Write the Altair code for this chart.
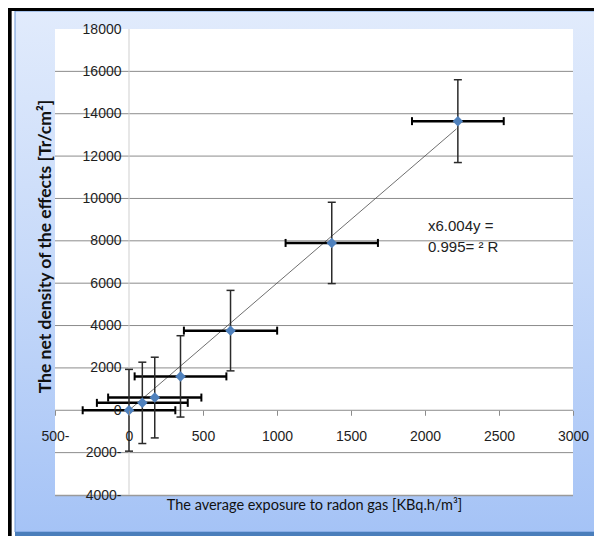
import altair as alt
import pandas as pd

# ---- data ----
x_vals = [0, 90, 174, 348, 686, 1370, 2222]
y_vals = [0, 350, 600, 1600, 3760, 7900, 13650]
x_err = [313, 307, 315, 310, 315, 312, 310]
y_err = [1930, 1920, 1905, 1920, 1900, 1920, 1955]

trend_x = [0, 2213]
trend_y = [0, 13287]

x_ticks = [-500, 0, 500, 1000, 1500, 2000, 2500, 3000]
y_ticks = [-4000, -2000, 0, 2000, 4000, 6000, 8000, 10000, 12000, 14000, 16000, 18000]
grid_vals = [-2000, 0, 2000, 4000, 6000, 8000, 10000, 12000, 14000, 16000]

note_lines = ["x6.004y =", "0.995= \u00b2 R"]
note_x = [2020, 2020]
note_y = [8700, 7700]

x_title = "The average exposure to radon gas [KBq.h/m\u00b3]"
y_title = "The net density of the effects [Tr/cm\u00b2]"

# ---- layout ----
W, H = 518, 466
PAD = {"left": 47, "top": 21, "right": 21, "bottom": 41}

pts = pd.DataFrame({"x": x_vals, "y": y_vals, "xerr": x_err, "yerr": y_err})
trend = pd.DataFrame({"x": trend_x, "y": trend_y})
grid = pd.DataFrame({"y": grid_vals})
notes = pd.DataFrame({"x": note_x, "y": note_y, "label": note_lines})
one = pd.DataFrame({"d": [0]})
zero_x = pd.DataFrame({"x": [0]})

xscale = alt.Scale(domain=[-500, 3000], nice=False, zero=False)
yscale = alt.Scale(domain=[-4000, 18000], nice=False, zero=False)

neg_label = "datum.value < 0 ? (-datum.value) + '-' : '' + datum.value"
x0_px = 500 / 3500 * W
y0_px = 18000 / 22000 * H

xaxis = alt.Axis(
    values=x_ticks, title=x_title, offset=-(H - y0_px), grid=False, domain=False,
    ticks=True, tickSize=5, tickColor="#8c8c8c", tickWidth=1,
    labelPadding=14, labelExpr=neg_label, labelFlush=False, labelOverlap=False,
    labelFont="Liberation Sans", labelFontSize=14, labelColor="#1e1e1e",
    titleFont="Lato", titleFontSize=14.5, titleFontWeight="normal", titleColor="#111",
    titleY=95, titleBaseline="middle", zindex=1,
)
yaxis = alt.Axis(
    values=y_ticks, title=y_title, offset=-x0_px, grid=False, domain=False,
    ticks=False, labelPadding=8, labelExpr=neg_label, labelOverlap=False,
    labelFont="Liberation Sans", labelFontSize=14, labelColor="#1e1e1e",
    titleFont="Lato", titleFontSize=17.5, titleFontWeight="bold", titleColor="#111",
    titleX=-84, titleY=217, titleBaseline="middle", titleAlign="center", zindex=1,
)

X = lambda f: alt.X(f, scale=xscale, axis=xaxis)
Y = lambda f: alt.Y(f, scale=yscale, axis=yaxis)

# ---- decoration (frame / backgrounds) ----
grad = alt.LinearGradient(
    gradient="linear",
    stops=[alt.GradientStop(color="#e1ebfc", offset=0),
           alt.GradientStop(color="#c6d9f9", offset=0.5),
           alt.GradientStop(color="#a5c3f6", offset=1)],
    x1=0, x2=0, y1=0, y2=1,
)
deco = alt.Chart(one)
bg_rect = deco.mark_rect(fill=grad, stroke="#6b97d8", strokeWidth=1).encode(
    x=alt.value(-40), x2=alt.value(560), y=alt.value(-18), y2=alt.value(503))
bottom_band = deco.mark_rule(color="#4a7ebb", strokeWidth=4).encode(
    x=alt.value(-40), x2=alt.value(560), y=alt.value(505))
black_left = deco.mark_rule(color="black", strokeWidth=3.7).encode(
    x=alt.value(-45.2), y=alt.value(-21), y2=alt.value(520))
black_top = deco.mark_rule(color="black", strokeWidth=3).encode(
    x=alt.value(-47), x2=alt.value(560), y=alt.value(-19.5))
plot_rect = deco.mark_rect(fill="white").encode(
    x=alt.value(0), x2=alt.value(W), y=alt.value(0), y2=alt.value(H))
plot_shadow = deco.mark_rule(color="#9a9a9a", strokeWidth=1.5).encode(
    x=alt.value(0), x2=alt.value(W), y=alt.value(H + 0.5))

# ---- grid and axis line ----
gridlines = alt.Chart(grid).mark_rule(color="#8c8c8c", strokeWidth=1).encode(
    y=Y("y:Q"), x=alt.value(0), x2=alt.value(W))
yline = alt.Chart(zero_x).mark_rule(color="#cfcfcf", strokeWidth=1).encode(
    x=X("x:Q"), y=alt.value(0), y2=alt.value(H))

# ---- data ----
trend_line = alt.Chart(trend).mark_line(color="#4a4a4a", strokeWidth=0.8).encode(
    x=X("x:Q"), y=Y("y:Q"))

base = alt.Chart(pts).transform_calculate(
    xlo="datum.x - datum.xerr", xhi="datum.x + datum.xerr",
    ylo="datum.y - datum.yerr", yhi="datum.y + datum.yerr",
)
hbar = base.mark_rule(color="black", strokeWidth=2.5).encode(
    x=X("xlo:Q"), x2="xhi:Q", y=Y("y:Q"))
vbar = base.mark_rule(color="#2a2a2a", strokeWidth=1.5).encode(
    x=X("x:Q"), y=Y("ylo:Q"), y2="yhi:Q")
hcaps = base.transform_fold(["xlo", "xhi"], as_=["k", "xc"]).mark_tick(
    orient="vertical", size=8, thickness=2, color="black", opacity=1).encode(
    x=X("xc:Q"), y=Y("y:Q"))
vcaps = base.transform_fold(["ylo", "yhi"], as_=["k", "yc"]).mark_tick(
    orient="horizontal", size=8, thickness=1.5, color="#2a2a2a", opacity=1).encode(
    x=X("x:Q"), y=Y("yc:Q"))
points = alt.Chart(pts).mark_point(
    shape="diamond", filled=True, fill="#4f81bd", size=110, opacity=1, strokeWidth=0
).encode(x=X("x:Q"), y=Y("y:Q"))

note = alt.Chart(notes).mark_text(
    align="left", baseline="middle", font="Liberation Sans", fontSize=15, color="#222"
).encode(x=X("x:Q"), y=Y("y:Q"), text="label:N")

chart = alt.layer(
    bg_rect, bottom_band, black_left, black_top, plot_rect, plot_shadow,
    gridlines, yline, trend_line, hbar, vbar, hcaps, vcaps, points, note,
).properties(
    width=W, height=H, padding=PAD,
    autosize=alt.AutoSizeParams(type="none"),
    background="white",
).configure_view(stroke=None)

chart.save("out.html", embed_options={"renderer": "svg", "actions": False})
